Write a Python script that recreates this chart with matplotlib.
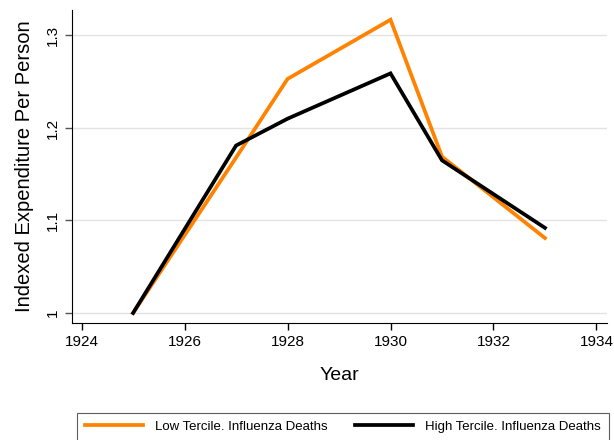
import matplotlib.pyplot as plt

plt.rcParams['font.family'] = ['Liberation Sans', 'DejaVu Sans']

years_low = [1925, 1927, 1928, 1930, 1931, 1933]
low_tercile = [1.000, 1.168, 1.253, 1.317, 1.169, 1.081]

years_high = [1925, 1927, 1928, 1930, 1931, 1933]
high_tercile = [1.000, 1.181, 1.210, 1.259, 1.165, 1.092]

xticks = [1924, 1926, 1928, 1930, 1932, 1934]
yticks = [1.0, 1.1, 1.2, 1.3]
ytick_labels = ['1', '1.1', '1.2', '1.3']

fig = plt.figure(figsize=(6.14, 4.40), dpi=100)
ax = fig.add_axes([0.117, 0.266, 0.872, 0.711])

ax.plot(years_low, low_tercile, color='#ff8200', lw=2.7,
        label='Low Tercile. Influenza Deaths', solid_joinstyle='miter')
ax.plot(years_high, high_tercile, color='black', lw=2.7,
        label='High Tercile. Influenza Deaths', solid_joinstyle='miter')

ax.set_xlim(1923.81, 1934.21)
ax.set_ylim(0.9892, 1.3274)
ax.set_xticks(xticks)
ax.set_yticks(yticks)
ax.set_yticklabels(ytick_labels, rotation=90, va='center')
ax.tick_params(axis='both', labelsize=11, length=5, width=1, direction='out')
ax.tick_params(axis='y', colors='#555555', labelcolor='black')

ax.grid(axis='y', color='#e3e3e3', lw=1)
ax.set_axisbelow(True)
ax.spines['top'].set_visible(False)
ax.spines['right'].set_visible(False)

ax.set_xlabel('Year', fontsize=14, labelpad=13)
ax.set_ylabel('Indexed Expenditure Per Person', fontsize=14.5, labelpad=9)

leg = fig.legend(loc='upper left', bbox_to_anchor=(0.125, 0.062), ncol=2,
                 fontsize=9.5, frameon=True, fancybox=False, edgecolor='#333333',
                 handlelength=4.4, handletextpad=0.9, columnspacing=2.1,
                 borderpad=0.6, borderaxespad=0)
leg.get_frame().set_linewidth(0.8)

fig.savefig('out.png', dpi=100)
